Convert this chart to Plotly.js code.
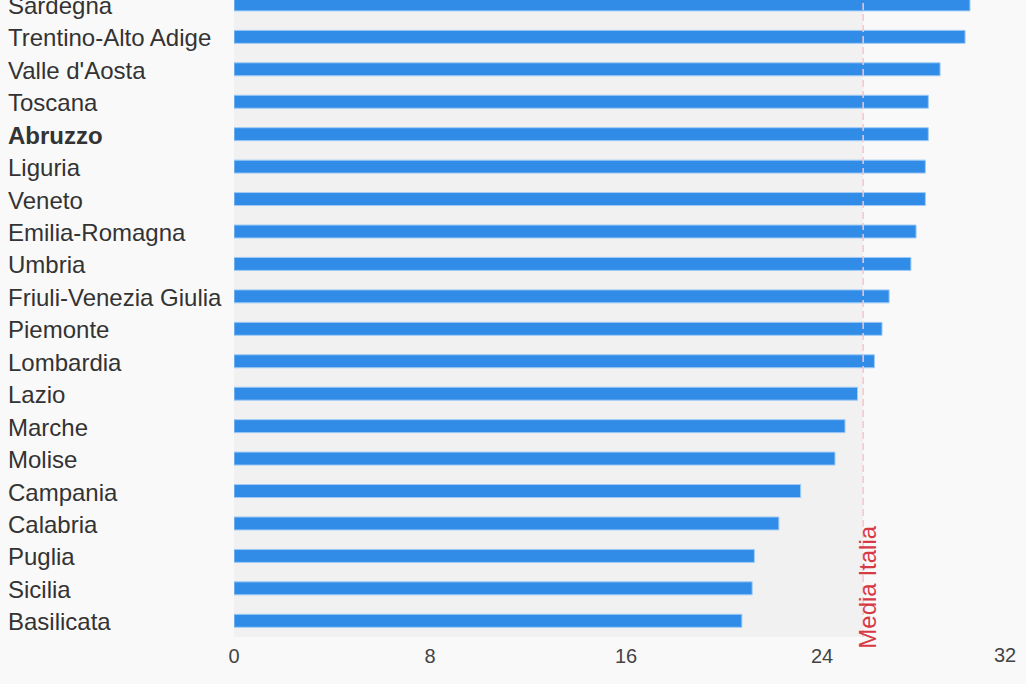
<!DOCTYPE html>
<html>
<head>
<meta charset="utf-8">
<script src="https://cdn.plot.ly/plotly-3.0.1.min.js"></script>
<style>html,body{margin:0;padding:0;background:#f9f9f9;}#chart{width:1026px;height:684px;}</style>
</head>
<body>
<div id="chart"></div>
<script>
// Categories listed bottom to top
const regions = ["Basilicata","Sicilia","Puglia","Calabria","Campania","Molise","Marche","Lazio","Lombardia","Piemonte","Friuli-Venezia Giulia","Umbria","Emilia-Romagna","Veneto","Liguria","Abruzzo","Toscana","Valle d'Aosta","Trentino-Alto Adige","Sardegna"];
const values = [20.73,21.15,21.24,22.24,23.13,24.53,24.94,25.45,26.14,26.45,26.74,27.63,27.84,28.22,28.22,28.34,28.34,28.82,29.84,30.04];
const mediaItalia = 25.68;
const highlight = "Abruzzo";
const xTicks = [0,8,16,24,32];
const meanLabel = "Media Italia";

const FONT = 'Liberation Sans, Arial, sans-serif';
const lastTick = xTicks[xTicks.length - 1];

const trace = {
  type: 'bar',
  orientation: 'h',
  y: regions,
  x: values,
  width: 0.4,
  marker: {color: '#318ce7', line: {color: '#9fcbf6', width: 1}},
  hoverinfo: 'x+y'
};

const labelAnnotations = regions.map(r => ({
  xref: 'paper', yref: 'y',
  x: -0.2908, y: r,
  xanchor: 'left', yanchor: 'middle', yshift: -1,
  text: r === highlight ? '<b>' + r + '</b>' : r,
  showarrow: false,
  font: {family: FONT, size: 24, color: '#333333'}
}));

const layout = {
  width: 1026, height: 684,
  margin: {l: 234, r: 8, t: 0, b: 47},
  paper_bgcolor: '#f9f9f9',
  plot_bgcolor: '#f9f9f9',
  showlegend: false,
  xaxis: {
    range: [0, lastTick],
    tickvals: xTicks.slice(0, -1), ticktext: xTicks.slice(0, -1).map(String),
    showgrid: false, zeroline: false, showline: false, ticks: '',
    ticklabelstandoff: 5,
    tickfont: {family: FONT, size: 20, color: '#444444'},
    fixedrange: true
  },
  yaxis: {
    type: 'category', categoryorder: 'array', categoryarray: regions,
    range: [-0.5, 19.136], showticklabels: false, showgrid: false,
    zeroline: false, showline: false, ticks: '', fixedrange: true
  },
  shapes: [
    {type: 'rect', xref: 'x', yref: 'paper', x0: 0, x1: mediaItalia, y0: 0, y1: 1,
     fillcolor: '#f1f1f1', line: {width: 0}, layer: 'below'},
    {type: 'line', xref: 'x', yref: 'paper', x0: mediaItalia, x1: mediaItalia, y0: 0, y1: 1,
     line: {color: '#f7c5cb', width: 1.5, dash: '7px,4px'}, layer: 'above'}
  ],
  annotations: labelAnnotations.concat([
    {
      xref: 'x', yref: 'paper', x: mediaItalia, y: 0,
      xanchor: 'center', yanchor: 'bottom', xshift: 4, yshift: -14,
      textangle: -90, text: meanLabel, showarrow: false,
      font: {family: FONT, size: 24, color: '#d63a45'}
    },
    {
      xref: 'x', yref: 'paper', x: lastTick, y: 0,
      xanchor: 'right', yanchor: 'top', yshift: -5,
      text: String(lastTick), showarrow: false,
      font: {family: FONT, size: 20, color: '#444444'}
    }
  ])
};

Plotly.newPlot('chart', [trace], layout, {displayModeBar: false, staticPlot: true});
</script>
</body>
</html>
